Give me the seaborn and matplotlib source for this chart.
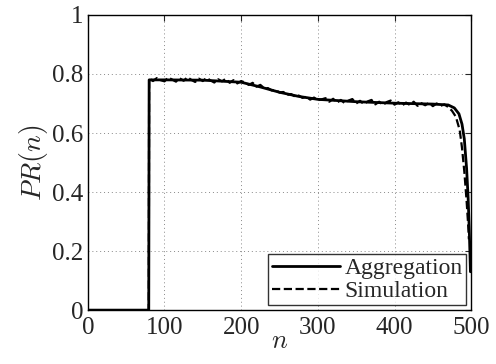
import numpy as np
import matplotlib
matplotlib.use("Agg")
import matplotlib.pyplot as plt
import seaborn as sns
import pandas as pd

sns.set_style("white")
plt.rcParams['font.family'] = ['Liberation Serif', 'DejaVu Serif']
plt.rcParams['mathtext.fontset'] = 'cm'

# analytic aggregation curve
n_agg = [0, 79.5, 80, 100, 150, 200, 225, 250, 275, 300, 350, 400, 450, 470, 478, 484, 488, 491, 494, 496, 497.5, 498.5, 499]
pr_agg = [0, 0, 0.78, 0.78, 0.779, 0.772, 0.756, 0.738, 0.724, 0.714, 0.706, 0.701, 0.698, 0.695, 0.685, 0.665, 0.63, 0.58, 0.48, 0.38, 0.27, 0.18, 0.13]

# simulation (noisy)
n_sim = [0, 79.5] + list(range(80, 470, 5)) + [470, 475, 480, 485, 488, 491, 494, 496, 497]
pr_sim = [0, 0,
          0.785, 0.776, 0.786, 0.779, 0.775, 0.788, 0.781, 0.774, 0.785, 0.777, 0.789, 0.780, 0.773,
          0.784, 0.776, 0.787, 0.778, 0.771, 0.782, 0.775, 0.784, 0.770, 0.779, 0.768, 0.776,
          0.771, 0.763, 0.770, 0.757, 0.763, 0.752, 0.752, 0.744, 0.746, 0.737, 0.739, 0.729,
          0.732, 0.724, 0.727, 0.719, 0.723, 0.713, 0.720, 0.711,
          0.714, 0.718, 0.706, 0.716, 0.703, 0.712, 0.701, 0.710, 0.715, 0.700, 0.709, 0.698,
          0.707, 0.712, 0.697, 0.706, 0.695, 0.705, 0.710, 0.696, 0.704, 0.693, 0.703, 0.695,
          0.706, 0.692, 0.701, 0.694, 0.702, 0.691, 0.700, 0.692, 0.697,
          0.688, 0.675, 0.655, 0.61, 0.55, 0.47, 0.37, 0.29, 0.24]

df_agg = pd.DataFrame({"n": n_agg, "pr": pr_agg})
df_sim = pd.DataFrame({"n": n_sim, "pr": pr_sim})

fig = plt.figure(figsize=(4.96, 3.64), dpi=100)
ax = fig.add_axes([0.177, 0.148, 0.773, 0.811])

sns.lineplot(data=df_agg, x="n", y="pr", ax=ax, color="black", lw=2, label="Aggregation", sort=False)
sns.lineplot(data=df_sim, x="n", y="pr", ax=ax, color="black", lw=1.6, ls="--", label="Simulation", sort=False)

ax.set_xlim(0, 500)
ax.set_ylim(0, 1)
ax.set_xticks([0, 100, 200, 300, 400, 500])
ax.set_yticks([0, 0.2, 0.4, 0.6, 0.8, 1])
ax.set_yticklabels(["0", "0.2", "0.4", "0.6", "0.8", "1"])
ax.grid(True, ls=(0, (1, 3)), color="#888888", lw=0.7)
ax.tick_params(direction="in", labelsize=18, length=4, top=True, right=True)
ax.tick_params(axis="x", pad=5)
ax.tick_params(axis="y", pad=3)
for s in ax.spines.values():
    s.set_color("black")
    s.set_linewidth(1)
ax.set_xlabel("$n$", fontsize=19, labelpad=-6)
ax.set_ylabel("$PR(n)$", fontsize=20, labelpad=2)

leg = ax.legend(loc="lower right", fontsize=17, handlelength=2.9, frameon=True, fancybox=False,
                edgecolor="black", borderaxespad=0.2, borderpad=0.15, labelspacing=0.05,
                handletextpad=0.2)
leg.get_frame().set_linewidth(1)

fig.savefig("out.png", dpi=100)
